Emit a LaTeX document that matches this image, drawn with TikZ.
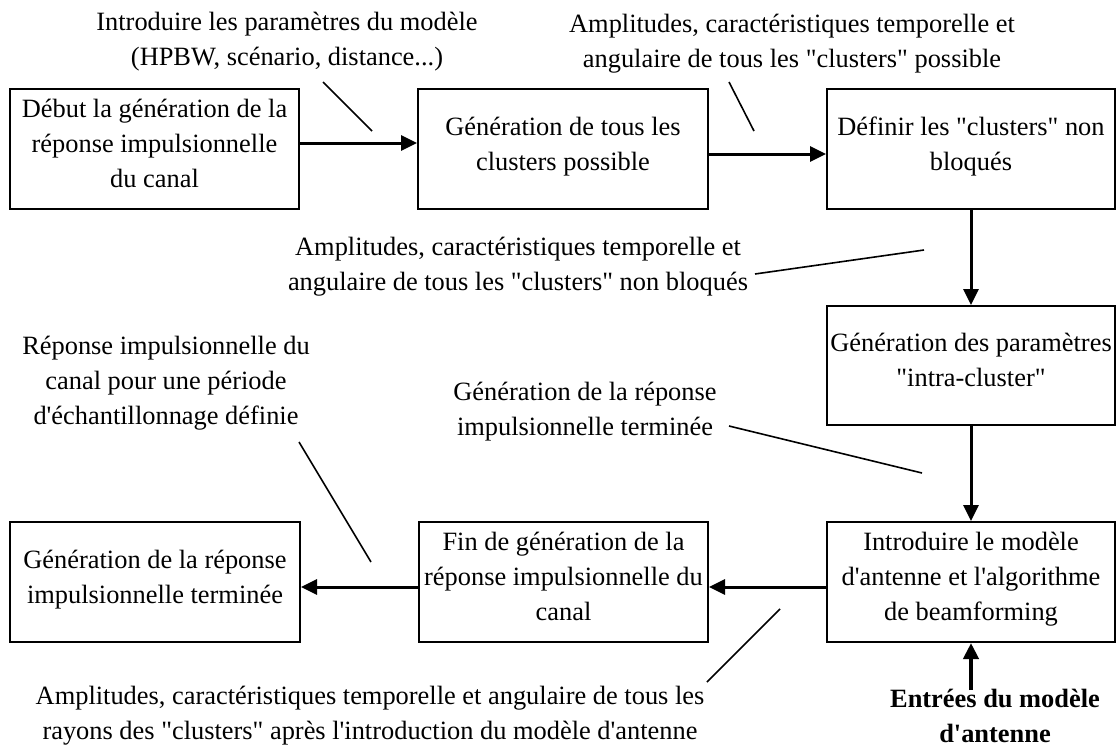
\documentclass[tikz,border=0pt]{standalone}
\usepackage{fontspec}
\setmainfont{Liberation Serif}[Ligatures=TeXOff]
\usetikzlibrary{arrows.meta,positioning}
\tikzset{
  blk/.style={draw, line width=2pt, minimum width=289pt, minimum height=120pt, align=center, inner sep=0pt, text depth=11pt},
  note/.style={align=center, inner sep=0pt},
  flow/.style={-{Triangle[length=16pt,width=15pt]}, line width=3pt},
  lead/.style={line width=1.6pt},
}

\begin{document}
\begin{tikzpicture}[x=1pt,y=-1pt,font=\rmfamily\fontsize{26.4}{35}\selectfont]
  \useasboundingbox (0,0) rectangle (1116,747);
  % Blocks
  \node[blk] (start) at (154.5,149) {Début la génération de la\\réponse impulsionnelle\\du canal};
  \node[blk, minimum width=290pt] (gen) at (563,149) {Génération de tous les\\clusters possible};
  \node[blk, minimum width=288pt] (def) at (971,149) {Définir les "clusters" non\\bloqués};
  \node[blk, minimum width=288pt, minimum height=119pt] (intra) at (971,365.5) {Génération des paramètres\\"intra-cluster"};
  \node[blk, minimum width=288pt] (ant) at (971,582) {Introduire le modèle\\d'antenne et l'algorithme\\de beamforming};
  \node[blk] (fin) at (563.5,582) {Fin de génération de la\\réponse impulsionnelle du\\canal};
  \node[blk, minimum width=290pt] (done) at (155,582) {Génération de la réponse\\impulsionnelle terminée};
  % Annotations
  \node[note] (n1) at (287,42) {Introduire les paramètres du modèle\\(HPBW, scénario, distance...)};
  \node[note] (n2) at (792,44) {Amplitudes, caractéristiques temporelle et\\angulaire de tous les "clusters" possible};
  \node[note] (n3) at (518,267) {Amplitudes, caractéristiques temporelle et\\angulaire de tous les "clusters" non bloqués};
  \node[note] (n4) at (166,383) {Réponse impulsionnelle du\\canal pour une période\\d'échantillonnage définie};
  \node[note] (n5) at (585,412) {Génération de la réponse\\impulsionnelle terminée};
  \node[note] (n6) at (370,716) {Amplitudes, caractéristiques temporelle et angulaire de tous les\\rayons des "clusters" après l'introduction du modèle d'antenne};
  \node[note, font=\rmfamily\fontsize{26.4}{35}\selectfont\bfseries] (inlab) at (995,716) {Entrées du modèle\\d'antenne};
  % Leader lines
  \coordinate (l1a) at (323,82);  \coordinate (l1b) at (372,131);
  \coordinate (l2a) at (729,82);  \coordinate (l2b) at (754,131);
  \coordinate (l3a) at (755,274); \coordinate (l3b) at (924,250);
  \coordinate (l4a) at (729,426); \coordinate (l4b) at (922,473);
  \coordinate (l5a) at (299,442); \coordinate (l5b) at (371,562);
  \coordinate (l6a) at (707,682); \coordinate (l6b) at (780,609);
  \draw[lead] (l1a) -- (l1b);
  \draw[lead] (l2a) -- (l2b);
  \draw[lead] (l3a) -- (l3b);
  \draw[lead] (l4a) -- (l4b);
  \draw[lead] (l5a) -- (l5b);
  \draw[lead] (l6a) -- (l6b);
  % Arrows
  \coordinate (inp) at (971,690);
  \draw[flow] ([yshift=6pt]start.east) -- ([yshift=6pt]gen.west);
  \draw[flow] ([yshift=-5pt]gen.east) -- ([yshift=-5pt]def.west);
  \draw[flow] (def.south) -- (intra.north);
  \draw[flow] (intra.south) -- (ant.north);
  \draw[flow] ([yshift=-5pt]ant.west) -- ([yshift=-5pt]fin.east);
  \draw[flow] ([yshift=-5pt]fin.west) -- ([yshift=-5pt]done.east);
  \draw[flow, line width=4pt] (inp) -- (ant.south);
\end{tikzpicture}
\end{document}
